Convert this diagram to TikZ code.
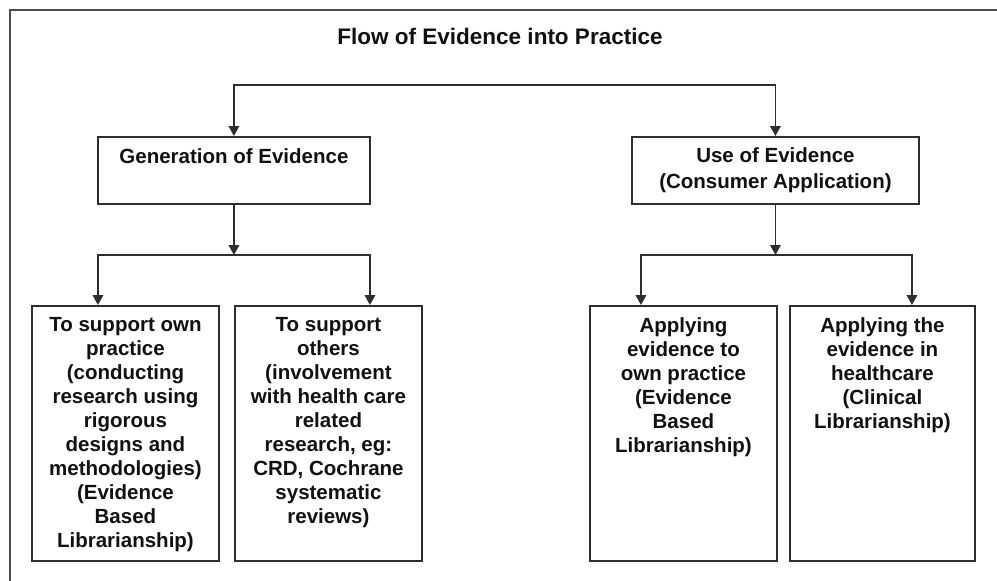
\documentclass[tikz,border=0pt]{standalone}
\usepackage{fontspec}
\setmainfont{Liberation Sans}
\usetikzlibrary{arrows.meta}
\definecolor{linegray}{HTML}{2E2E2E}
\definecolor{textblack}{HTML}{111111}
\newcommand{\boxpar}[3]{\parbox[t][#2][t]{#1}{\centering #3}}
\begin{document}
\begin{tikzpicture}[x=1pt,y=-1pt,
  boxst/.style={draw=linegray, line width=1.9pt, inner xsep=3pt, inner ysep=11.5pt,
    font=\bfseries\fontsize{20.5}{24}\selectfont, text=textblack, anchor=north west},
  arrowst/.style={draw=linegray, line width=1.8pt, -{Triangle[width=10.5pt,length=10pt]}},
  framest/.style={draw=linegray!85, line width=2pt}]
\useasboundingbox (0,0) rectangle (997,581);
\draw[framest] (10,581) -- (10,9.5) -- (997,9.5);

\node[font=\bfseries\fontsize{22.5}{27}\selectfont, anchor=base, text=textblack, inner sep=0pt]
  (title) at (500,44) {Flow of Evidence into Practice};

\node[boxst, inner ysep=12pt] (gen) at (97,136) {\boxpar{266pt}{43pt}{Generation of Evidence}};
\node[boxst, inner ysep=11pt] (use) at (631,136) {\boxpar{281pt}{45pt}{\baselineskip=25.5pt Use of Evidence\\(Consumer Application)}};

\node[boxst] (b1) at (31,305) {\boxpar{181pt}{232pt}{To support own\\practice\\(conducting\\research using\\rigorous\\designs and\\methodologies)\\(Evidence\\Based\\Librarianship)}};
\node[boxst] (b2) at (234,305) {\boxpar{181pt}{232pt}{To support\\others\\(involvement\\with health care\\related\\research, eg:\\CRD, Cochrane\\systematic\\reviews)}};
\node[boxst] (b3) at (589,305) {\boxpar{181pt}{232pt}{Applying\\evidence to\\own practice\\(Evidence\\Based\\Librarianship)}};
\node[boxst] (b4) at (789,305) {\boxpar{179pt}{232pt}{Applying the\\evidence in\\healthcare\\(Clinical\\Librarianship)}};

\coordinate (topsplit) at (500,85);
\coordinate (level) at (500,255);
\coordinate (j1) at (gen.south |- level);
\coordinate (j2) at (use.south |- level);

\draw[arrowst] (topsplit) -| (gen.north);
\draw[arrowst] (topsplit) -| (use.north);
\draw[arrowst] (gen.south) -- (j1);
\draw[arrowst] (j1) -| ([xshift=-27.5pt]b1.north);
\draw[arrowst] (j1) -| ([xshift=41.5pt]b2.north);
\draw[arrowst] (use.south) -- (j2);
\draw[arrowst] (j2) -| ([xshift=-42.5pt]b3.north);
\draw[arrowst] (j2) -| ([xshift=29.5pt]b4.north);
\end{tikzpicture}
\end{document}
